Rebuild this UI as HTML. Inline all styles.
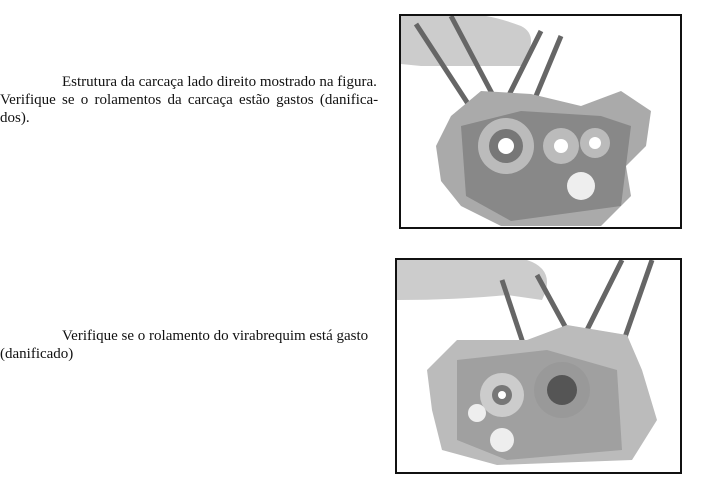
<!DOCTYPE html>
<html><head><style>
body{margin:0;width:702px;height:491px;background:#fff;position:relative;font-family:"Liberation Serif",serif;color:#111;overflow:hidden}
.t{position:absolute;font-size:15px;line-height:18px;white-space:nowrap}
.f{position:absolute;border:2px solid #111;background:#fff;overflow:hidden;box-sizing:border-box}
</style></head><body>
<div class="t" style="left:0;top:73px">
<div style="padding-left:62px">Estrutura da carcaça lado direito mostrado na figura.</div>
<div style="word-spacing:2.5px">Verifique se o rolamentos da carcaça estão gastos (danifica-</div>
<div>dos).</div></div>
<div class="t" style="left:0;top:327px">
<div style="padding-left:62px">Verifique se o rolamento do virabrequim está gasto</div>
<div>(danificado)</div></div>

<div class="f" style="left:399px;top:14px;width:283px;height:215px">
<svg width="283" height="215">
<path d="M0,0 H60 Q80,-5 120,10 Q140,20 120,50 L20,50 L0,48Z" fill="#ccc"/>
<path d="M15,8 L75,100 M50,0 L95,85 M140,15 L105,85 M160,20 L135,80" stroke="#666" stroke-width="5"/>
<path d="M50,100 L80,75 L130,78 L180,90 L220,75 L250,95 L245,130 L225,150 L230,180 L200,210 L100,210 L60,190 L40,165 L35,130Z" fill="#aaa"/>
<path d="M60,110 L120,95 L200,100 L230,110 L220,190 L110,205 L65,180Z" fill="#888"/>
<circle cx="105" cy="130" r="28" fill="#bbb"/><circle cx="105" cy="130" r="17" fill="#777"/><circle cx="105" cy="130" r="8" fill="#fff"/>
<circle cx="160" cy="130" r="18" fill="#bbb"/><circle cx="160" cy="130" r="7" fill="#fff"/>
<circle cx="194" cy="127" r="15" fill="#bbb"/><circle cx="194" cy="127" r="6" fill="#fff"/>
<circle cx="180" cy="170" r="14" fill="#eee"/>
</svg></div>

<div class="f" style="left:395px;top:258px;width:287px;height:216px">
<svg width="287" height="216">
<path d="M0,0 H130 Q160,10 145,40 L110,35 Q60,40 0,40Z" fill="#ccc"/>
<path d="M105,20 L130,95 M140,15 L170,70 M225,0 L190,70 M255,0 L220,100" stroke="#666" stroke-width="5"/>
<path d="M30,110 L60,80 L130,80 L170,65 L230,75 L245,110 L260,160 L235,200 L100,205 L45,190 L35,150Z" fill="#bbb"/>
<path d="M60,100 L150,90 L220,110 L225,190 L110,200 L60,180Z" fill="#a0a0a0"/>
<circle cx="165" cy="130" r="28" fill="#999"/><circle cx="165" cy="130" r="15" fill="#555"/>
<circle cx="105" cy="135" r="22" fill="#ccc"/><circle cx="105" cy="135" r="10" fill="#777"/><circle cx="105" cy="135" r="4" fill="#fff"/>
<circle cx="80" cy="153" r="9" fill="#eee"/><circle cx="105" cy="180" r="12" fill="#eee"/>
</svg></div>
</body></html>
